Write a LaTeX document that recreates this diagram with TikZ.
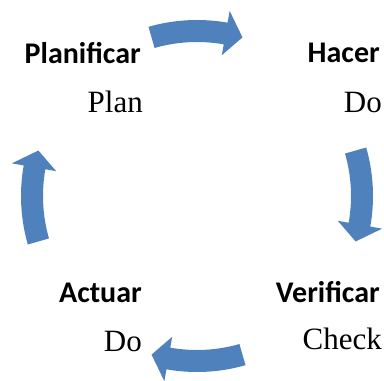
\documentclass[tikz,border=0pt]{standalone}
\usepackage{fontspec}
\setmainfont{Liberation Serif}
\newfontfamily\headfont{Carlito}
\definecolor{cycleblue}{RGB}{79,129,189}

\begin{document}
\begin{tikzpicture}[x=1pt,y=1pt]
\useasboundingbox (0,0) rectangle (384,381);
\coordinate (c) at (197,185);

\begin{scope}[every node/.style={anchor=base east,inner sep=0pt,font=\headfont\bfseries\fontsize{30}{35}\selectfont}]
\node (plan) at (141,317) {Planificar};
\node (hacer) at (380,318) {Hacer};
\node (verif) at (380,78) {Verificar};
\node (actuar) at (142,78) {Actuar};
\end{scope}

\begin{scope}[every node/.style={anchor=base east,inner sep=0pt,font=\fontsize{31}{36}\selectfont}]
\node (plan2) at (143,268) {Plan};
\node (hacer2) at (382,268) {Do};
\node (verif2) at (382,31) {Check};
\node (actuar2) at (142,29) {Do};
\end{scope}

\begin{scope}[fill=cycleblue]
% top, right, bottom, left
\foreach \a in {90,0,-90,180}
  \fill ([shift={(\a+16:154)}]c) arc (\a+16:\a-10:154)
    -- ([shift={(\a-10:143)}]c) -- ([shift={(\a-16:165)}]c)
    -- ([shift={(\a-10:188)}]c) -- ([shift={(\a-10:176)}]c)
    arc (\a-10:\a+16:176) -- cycle;
\end{scope}
\end{tikzpicture}
\end{document}
